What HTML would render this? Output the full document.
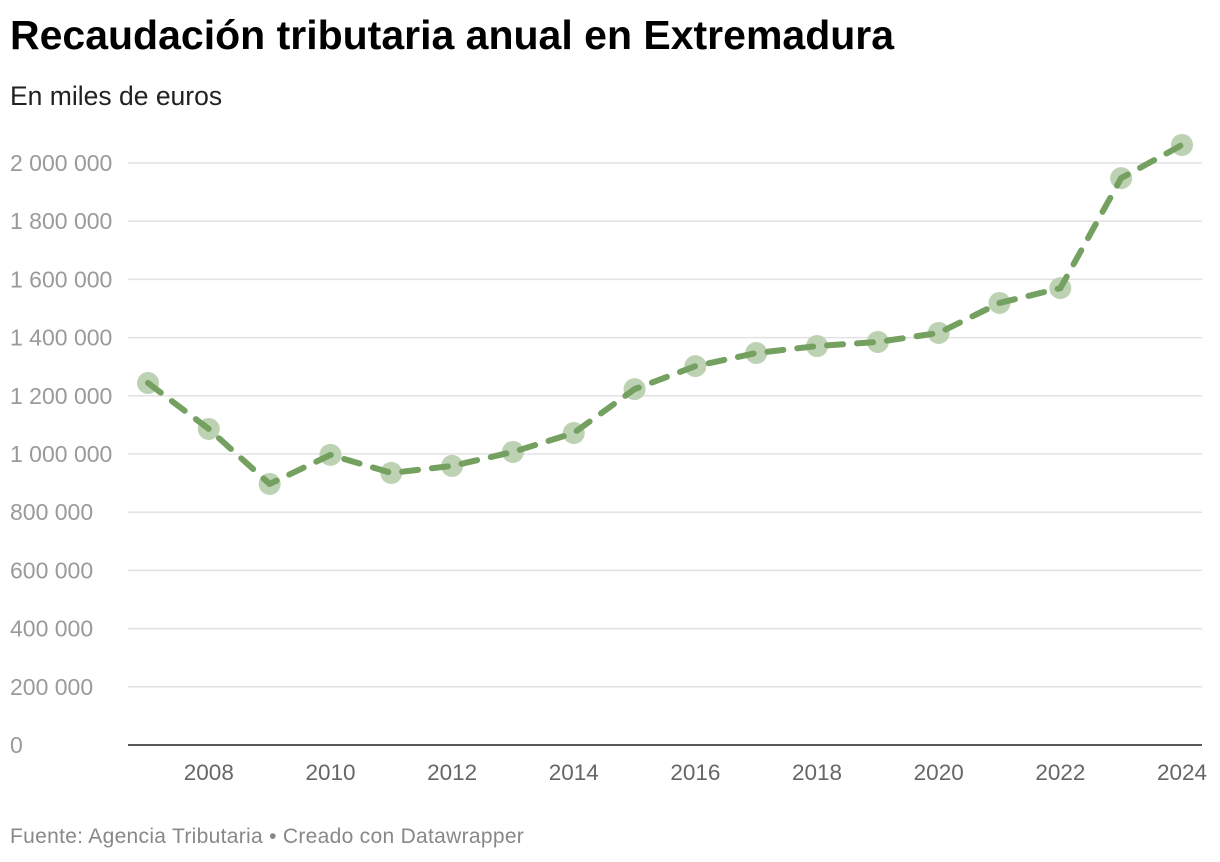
<!DOCTYPE html>
<html><head><meta charset="utf-8"><style>
body{margin:0;background:#fff;font-family:"Liberation Sans",sans-serif;}
#wrap{position:relative;width:1220px;height:862px;overflow:hidden;}
h1{position:absolute;left:10px;top:12px;margin:0;font-size:41px;font-weight:bold;color:#000;letter-spacing:0}
.sub{position:absolute;left:10px;top:81px;font-size:26.5px;color:#222}
.foot{position:absolute;left:10px;top:825px;font-size:21px;color:#888;letter-spacing:0.3px}
svg{position:absolute;left:0;top:0}
</style></head><body>
<div id="wrap">
<h1>Recaudación tributaria anual en Extremadura</h1>
<div class="sub">En miles de euros</div>
<svg id="chart" width="1220" height="862"></svg>
<div class="foot">Fuente: Agencia Tributaria • Creado con Datawrapper</div>
</div>
<script>
const years=[2007,2008,2009,2010,2011,2012,2013,2014,2015,2016,2017,2018,2019,2020,2021,2022,2023,2024];
const values=[1244000,1086000,897000,997000,935000,959000,1007000,1072000,1223000,1302000,1347000,1371000,1385000,1416000,1519000,1570000,1948000,2062000];
const yTicks=[0,200000,400000,600000,800000,1000000,1200000,1400000,1600000,1800000,2000000];
const xTicks=[2008,2010,2012,2014,2016,2018,2020,2022,2024];
const svg=document.getElementById('chart');const NS='http://www.w3.org/2000/svg';
const x=v=>148+(v-2007)*(1182-148)/17;
const y=v=>745-v*(745-163)/2000000;
const fmt=v=>v.toString().replace(/\B(?=(\d{3})+(?!\d))/g,' ');
function mk(t,a){const e=document.createElementNS(NS,t);for(const k in a)e.setAttribute(k,a[k]);svg.appendChild(e);return e;}
yTicks.forEach(v=>{
 if(v>0){const g=mk('line',{x1:128,x2:1202,y1:y(v),y2:y(v),stroke:'#e2e2e2','stroke-width':1.5});
 
 }
 const t=mk('text',{x:10,y:y(v)+8,fill:'#9a9a9a','font-size':23,'font-family':'Liberation Sans'});t.textContent=fmt(v);
 
 
});
const ax=mk('line',{x1:128,x2:1202,y1:745,y2:745,stroke:'#222','stroke-width':1.5});


xTicks.forEach(v=>{const t=mk('text',{x:x(v),y:780,fill:'#666','font-size':22.5,'text-anchor':'middle','font-family':'Liberation Sans'});t.textContent=v;
 
 });
years.forEach((yr,i)=>{const c=mk('circle',{cx:x(yr),cy:y(values[i]),r:11,fill:'#bdd1b3'});
 
 });
const p=mk('polyline',{points:years.map((yr,i)=>x(yr)+','+y(values[i])).join(' '),fill:'none',stroke:'#74a060','stroke-width':6,'stroke-dasharray':'16 14','stroke-linecap':'round','stroke-linejoin':'round'});


</script>
</body></html>
